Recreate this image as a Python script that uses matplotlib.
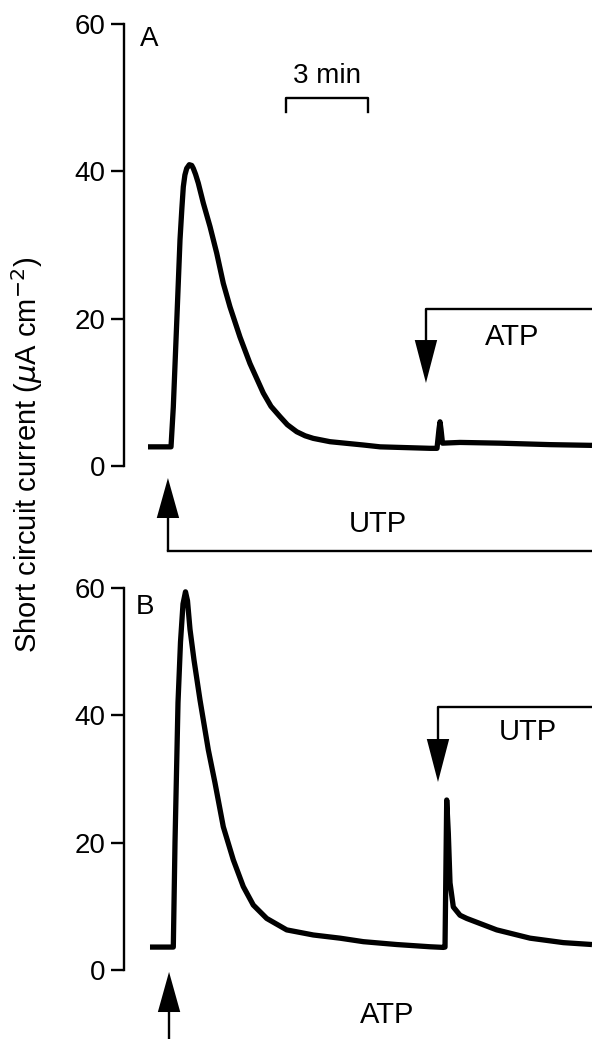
import matplotlib
matplotlib.use("Agg")
import matplotlib.pyplot as plt
from matplotlib.patches import Polygon

plt.rcParams['font.family'] = ['Liberation Sans', 'DejaVu Sans']

# ---------------- data (time in min, current in uA cm^-2) ----------------
t_A = [0.000, 0.842, 0.926, 1.050, 1.171, 1.240, 1.292, 1.350, 1.416, 1.511,
       1.600, 1.658, 1.740, 1.840,
       2.023, 2.269, 2.514, 2.755, 3.000, 3.366, 3.732, 4.000, 4.219, 4.500,
       4.830, 5.100, 5.441, 5.750,
       6.048, 6.659, 7.878, 8.494, 10.318, 10.574, 10.647, 10.684, 10.720,
       10.775, 11.416, 12.880, 14.710, 16.245]
i_A = [2.6, 2.6, 8.0, 19.4, 30.7, 35.0, 37.9, 39.5, 40.4, 40.9,
       40.8, 40.4, 39.6, 38.4,
       35.7, 32.5, 28.9, 24.8, 21.6, 17.5, 13.9, 11.7, 9.9, 8.1,
       6.7, 5.6, 4.65, 4.1,
       3.75, 3.3, 2.85, 2.6, 2.4, 2.4, 5.0, 6.0, 5.0,
       3.1, 3.2, 3.1, 2.9, 2.8]

t_B = [0.073, 0.926, 0.988, 1.098, 1.189, 1.281, 1.372, 1.445, 1.537, 1.683,
       1.903, 2.206, 2.451, 2.755, 3.121, 3.487, 3.853, 4.343, 5.075, 6.048,
       7.025, 7.878, 9.100, 10.318, 10.805, 10.867, 10.929, 10.988, 11.050,
       11.171, 11.416, 11.661, 12.759, 13.977, 15.196, 16.245]
i_B = [3.6, 3.6, 20.0, 42.0, 51.5, 57.5, 59.4, 58.0, 53.5, 48.7,
       42.4, 34.6, 29.4, 22.5, 17.3, 13.1, 10.2, 8.1, 6.3, 5.5,
       5.0, 4.45, 4.0, 3.65, 3.55, 3.6, 26.7, 21.5, 13.7,
       9.9, 8.6, 8.1, 6.3, 5.0, 4.3, 4.0]

yticks = [0, 20, 40, 60]

# drug addition times (min)
add_A_first = 0.73    # UTP, panel A
add_A_second = 10.17  # ATP, panel A
add_B_first = 0.77    # ATP, panel B
add_B_second = 10.61  # UTP, panel B
scale_bar = (5.05, 8.05)  # 3 min

# ---------------- layout ----------------
W, H = 592, 1039
fig = plt.figure(figsize=(W / 100, H / 100), dpi=100)
XL = (-0.878, 16.245)

axA = fig.add_axes([124 / W, 1 - 466 / H, 468 / W, 442 / H])
axB = fig.add_axes([124 / W, 1 - 970 / H, 468 / W, 382 / H])

TRACE_LW = 3.8
THIN = 1.7
FS = 20
FT = 21

for ax, t, y in [(axA, t_A, i_A), (axB, t_B, i_B)]:
    ax.plot(t, y, color='black', lw=TRACE_LW, solid_joinstyle='round',
            solid_capstyle='butt', clip_on=False)
    ax.set_xlim(*XL)
    ax.set_ylim(0, 60)
    for s in ['top', 'right', 'bottom']:
        ax.spines[s].set_visible(False)
    ax.spines['left'].set_linewidth(THIN)
    ax.set_xticks([])
    ax.set_yticks(yticks)
    ax.tick_params(axis='y', direction='out', length=9.5, width=THIN,
                   pad=4, labelsize=FS)
    ax.patch.set_visible(False)


def arrow(ax, x, tip, base, end, head_w=0.41):
    """vertical arrow with filled triangular head; shaft from base to end"""
    ax.add_patch(Polygon([[x - head_w, base], [x + head_w, base], [x, tip]],
                         closed=True, color='black', lw=0, clip_on=False))
    ax.plot([x, x], [base, end], color='black', lw=THIN, clip_on=False,
            solid_capstyle='butt')


# panel A annotations
axA.text(0.04, 58.0, 'A', fontsize=FS, ha='center', va='center')
axA.plot([scale_bar[0], scale_bar[0], scale_bar[1], scale_bar[1]],
         [48.05, 49.95, 49.95, 48.05], color='black', lw=THIN, clip_on=False)
axA.text(sum(scale_bar) / 2, 53.0, '3 min', fontsize=FS, ha='center', va='center')

# ATP (panel A, second addition)
axA.plot([XL[1], add_A_second, add_A_second], [21.31, 21.31, 17.1],
         color='black', lw=THIN, clip_on=False)
arrow(axA, add_A_second, 11.27, 17.1, 17.1)
axA.text(13.32, 17.5, 'ATP', fontsize=FT, ha='center', va='center')

# UTP (panel A, first addition, below)
arrow(axA, add_A_first, -1.63, -7.06, -11.54)
axA.plot([add_A_first, XL[1]], [-11.54, -11.54], color='black', lw=THIN,
         clip_on=False, solid_capstyle='projecting')
axA.text(8.42, -7.87, 'UTP', fontsize=FT, ha='center', va='center')

# panel B annotations
axB.text(-0.11, 57.0, 'B', fontsize=FS, ha='center', va='center')
axB.plot([XL[1], add_B_second, add_B_second], [41.31, 41.31, 36.28],
         color='black', lw=THIN, clip_on=False)
arrow(axB, add_B_second, 29.53, 36.28, 36.28)
axB.text(13.9, 37.38, 'UTP', fontsize=FT, ha='center', va='center')

arrow(axB, add_B_first, -0.3, -6.6, -11.5)
axB.text(8.74, -7.07, 'ATP', fontsize=FT, ha='center', va='center')

fig.text(27 / W, 1 - 455 / H, r'Short circuit current ($\mu$A cm$^{-2}$)',
         rotation=90, ha='center', va='center', fontsize=FS + 1)

fig.savefig('out.png', dpi=100)
